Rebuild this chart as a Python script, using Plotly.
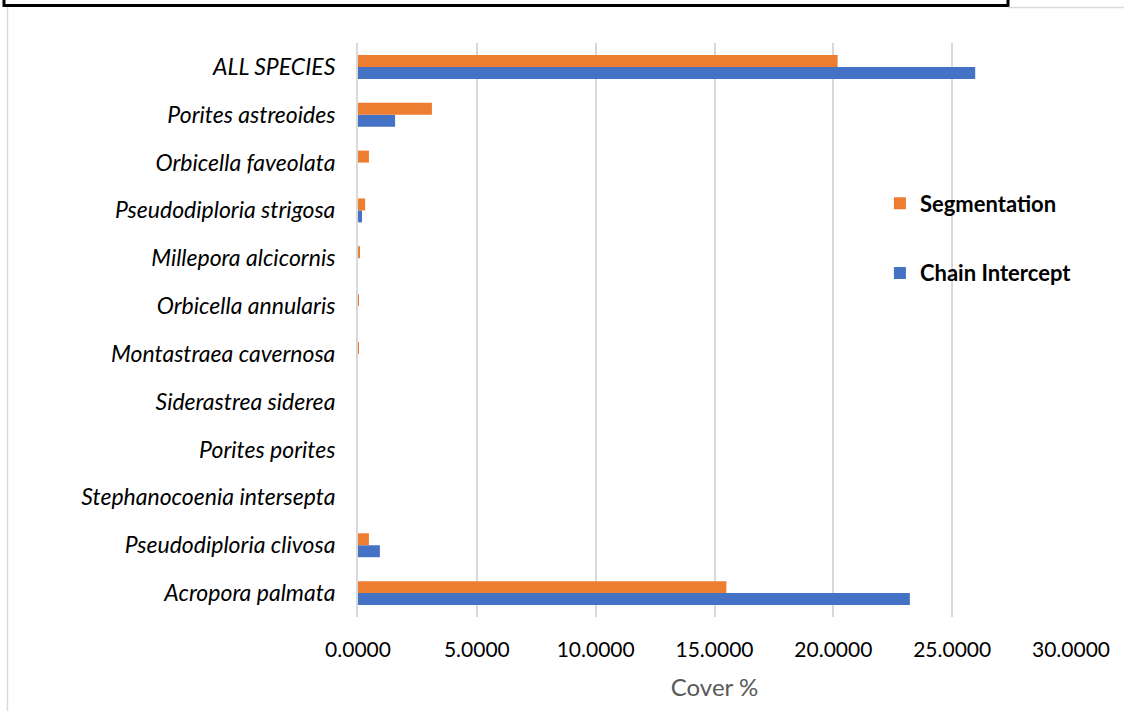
import plotly.graph_objects as go

# Coral species, bottom to top on the chart
species = [
    "Acropora palmata",
    "Pseudodiploria clivosa",
    "Stephanocoenia intersepta",
    "Porites porites",
    "Siderastrea siderea",
    "Montastraea cavernosa",
    "Orbicella annularis",
    "Millepora alcicornis",
    "Pseudodiploria strigosa",
    "Orbicella faveolata",
    "Porites astreoides",
    "ALL SPECIES",
]

# Cover % by method
chain_intercept = [23.22, 0.92, 0.0, 0.0, 0.0, 0.0, 0.0, 0.0, 0.17, 0.0, 1.56, 25.97]
segmentation = [15.50, 0.46, 0.0, 0.0, 0.0, 0.04, 0.04, 0.05, 0.30, 0.46, 3.11, 20.18]

x_ticks = [0, 5, 10, 15, 20, 25, 30]
x_tick_labels = [f"{v:.4f}" for v in x_ticks]

BLUE = "#4472C4"
ORANGE = "#ED7D31"
FONT = "Lato, Carlito, Calibri, sans-serif"

fig = go.Figure()
fig.add_trace(go.Bar(
    y=species, x=chain_intercept, orientation="h", name="Chain Intercept",
    marker=dict(color=BLUE, line=dict(width=0)), legendgroup="ci", legendrank=2,
))
fig.add_trace(go.Bar(
    y=species, x=segmentation, orientation="h", name="Segmentation",
    marker=dict(color=ORANGE, line=dict(width=0)), legendgroup="seg", legendrank=1,
))

fig.update_layout(
    width=1124, height=711,
    margin=dict(l=358, r=53, t=43, b=94),
    paper_bgcolor="white", plot_bgcolor="white",
    barmode="group", bargap=0.5, bargroupgap=0,
    font=dict(family=FONT, size=18, color="#000000"),
    showlegend=True,
    legend=dict(
        x=0.732, y=0.757, xanchor="left", yanchor="top",
        traceorder="grouped", tracegroupgap=38,
        font=dict(family=FONT, size=22, color="#000000", weight="bold"),
        itemwidth=30, bgcolor="rgba(0,0,0,0)",
    ),
    xaxis=dict(
        range=[0, 30], tickvals=x_ticks, ticktext=x_tick_labels,
        showgrid=True, gridcolor="#d9d9d9", gridwidth=1.5,
        zeroline=False, showline=False, ticks="",
        ticklabelstandoff=18,
        tickfont=dict(family=FONT, size=21, color="#000000"),
        title=dict(text="Cover %", font=dict(family=FONT, size=24, color="#595959"), standoff=19),
        fixedrange=True,
    ),
    yaxis=dict(
        type="category", categoryorder="array", categoryarray=species,
        showgrid=False, zeroline=False, ticks="",
        showline=True, linecolor="#d9d9d9", linewidth=2,
        ticklabelstandoff=16,
        tickfont=dict(family=FONT, size=23, color="#000000", style="italic"),
        fixedrange=True,
    ),
    shapes=[
        # black frame bottom edge from a box above
        dict(type="rect", xref="paper", yref="paper",
             x0=(4 - 358) / 713, x1=(1008 - 358) / 713,
             y0=(617 - 5.5) / 574, y1=(617 + 10) / 574,
             line=dict(color="black", width=3), fillcolor="rgba(0,0,0,0)", layer="above"),
        # light outer border of the chart area
        dict(type="line", xref="paper", yref="paper",
             x0=(7.5 - 358) / 713, x1=(7.5 - 358) / 713,
             y0=(617 - 7) / 574, y1=(617 - 711) / 574,
             line=dict(color="#d9d9d9", width=1.5)),
        dict(type="line", xref="paper", yref="paper",
             x0=(1008 - 358) / 713, x1=(1124 - 358) / 713,
             y0=(617 - 7.5) / 574, y1=(617 - 7.5) / 574,
             line=dict(color="#d9d9d9", width=1.5)),
    ],
)

fig.write_html("out.html")
